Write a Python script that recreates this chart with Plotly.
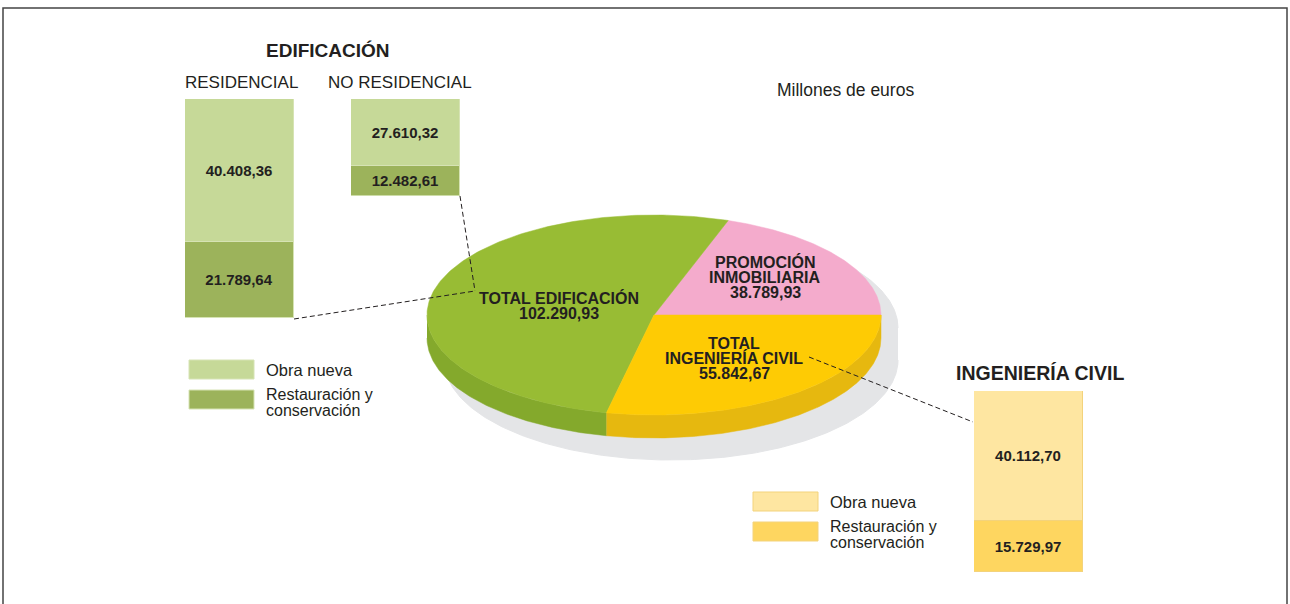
import numpy as np
import plotly.graph_objects as go

# ---------- data ----------
pie_names = ["PROMOCIÓN INMOBILIARIA", "TOTAL EDIFICACIÓN", "TOTAL INGENIERÍA CIVIL"]
pie_values = [38789.93, 102290.93, 55842.67]

bar_groups = ["RESIDENCIAL", "NO RESIDENCIAL", "INGENIERÍA CIVIL"]
obra_nueva = [40408.36, 27610.32, 40112.70]
restauracion = [21789.64, 12482.61, 15729.97]

legend_labels = ["Obra nueva", "Restauración y", "conservación"]
units_label = "Millones de euros"


def fmt(v):
    return f"{v:,.2f}".replace(",", "#").replace(".", ",").replace("#", ".")


W, H = 1290, 604
FONT = "Liberation Sans, Arial, sans-serif"
INK = "#231f20"

fig = go.Figure()

# ---------- 3D-ish pie on a pixel canvas ----------
cx, cy, rx, ry, depth = 654, 315, 227, 100, 23
top_colors = ["#f4abcc", "#98bc34", "#fecb04"]
side_colors = [None, "#84a92c", "#e6b80f"]


def arc(t0, t1, dx=0, dy=0, n=200):
    t = np.linspace(t0, t1, n)
    return cx + dx + rx * np.cos(t), cy + dy - ry * np.sin(t)


# shadow: extruded ellipse shifted right/down
ux, uy = arc(0, np.pi, dx=17, dy=13)
lx, ly = arc(np.pi, 2 * np.pi, dx=17, dy=45)
fig.add_trace(go.Scatter(x=np.r_[ux, lx], y=np.r_[uy, ly], fill="toself", mode="lines",
                         fillcolor="#e4e5e7", line=dict(color="#e4e5e7", width=1),
                         hoverinfo="skip", showlegend=False))

bounds = np.r_[0, np.cumsum(pie_values)] / sum(pie_values) * 2 * np.pi

# side walls (front half only)
for i in range(len(pie_values)):
    a0, a1 = max(bounds[i], np.pi), min(bounds[i + 1], 2 * np.pi)
    if a0 >= a1 or side_colors[i] is None:
        continue
    tx, ty = arc(a0, a1)
    bx, by = arc(a1, a0, dy=depth)
    fig.add_trace(go.Scatter(x=np.r_[tx, bx], y=np.r_[ty, by], fill="toself", mode="lines",
                             fillcolor=side_colors[i], line=dict(color=side_colors[i], width=0.5),
                             hoverinfo="skip", showlegend=False))

# top surface slices
for i in range(len(pie_values)):
    tx, ty = arc(bounds[i], bounds[i + 1])
    fig.add_trace(go.Scatter(x=np.r_[cx, tx, cx], y=np.r_[cy, ty, cy], fill="toself", mode="lines",
                             fillcolor=top_colors[i], line=dict(color=top_colors[i], width=0.5),
                             name=pie_names[i], text=fmt(pie_values[i]),
                             hovertemplate="%{fullData.name}<br>%{text}<extra></extra>",
                             showlegend=False))

# ---------- stacked bars, each on its own axis ----------
# (left px, right px, top px, px per million)
bar_boxes = [(185, 294, 99, 0.003528), (351, 460, 99, 0.002412), (974, 1083, 391, 0.003241)]
new_colors = ["#c6d998", "#c6d998", "#fee6a1"]
rest_colors = ["#9cb35b", "#9cb35b", "#fed660"]
edge_colors = ["#d6e3b4", "#d6e3b4", "#f3d37c"]

axes_layout = {}
for i, (l, r, top, k) in enumerate(bar_boxes):
    total = obra_nueva[i] + restauracion[i]
    bottom = top + total * k
    xa, ya = f"x{i + 2}", f"y{i + 2}"
    for val, col in [(obra_nueva[i], new_colors[i]), (restauracion[i], rest_colors[i])]:
        fig.add_trace(go.Bar(
            x=[0], y=[val], width=1, xaxis=xa, yaxis=ya,
            marker=dict(color=col, line=dict(color=edge_colors[i], width=1)),
            text=[fmt(val)], texttemplate="<b>%{text}</b>", textposition="inside",
            insidetextanchor="middle", textangle=0,
            textfont=dict(family=FONT, size=15, color=INK),
            name=bar_groups[i], showlegend=False,
        ))
    axes_layout[f"xaxis{i + 2}"] = dict(domain=[l / W, r / W], range=[-0.5, 0.5],
                                        anchor=ya, visible=False, fixedrange=True)
    axes_layout[f"yaxis{i + 2}"] = dict(domain=[1 - bottom / H, 1 - top / H], range=[total, 0],
                                        anchor=xa, visible=False, fixedrange=True)

# ---------- text ----------
def label(x, y, text, size=15, bold=False, anchor="center"):
    fig.add_annotation(x=x, y=y, xref="x", yref="y", text=f"<b>{text}</b>" if bold else text,
                       showarrow=False, xanchor=anchor, yanchor="middle",
                       font=dict(family=FONT, size=size, color=INK))


label(328, 50, "EDIFICACIÓN", 19, True)
label(241, 82, bar_groups[0], 17)
label(400, 82, bar_groups[1], 17)
label(1040, 373, bar_groups[2], 19.5, True)
label(845, 90, units_label, 17.5)

PS = 16
label(559, 298, "TOTAL EDIFICACIÓN", PS, True)
label(559, 313, fmt(pie_values[1]), PS, True)
label(765, 262, "PROMOCIÓN", PS, True)
label(765, 277, "INMOBILIARIA", PS, True)
label(765, 292, fmt(pie_values[0]), PS, True)
label(734, 343, "TOTAL", PS, True)
label(734, 358, "INGENIERÍA CIVIL", PS, True)
label(734, 373, fmt(pie_values[2]), PS, True)

# legends
shapes = []
for (lx0, ty0, cols, edge) in [(189, 360, (new_colors[0], rest_colors[0]), edge_colors[0]),
                               (753, 492, (new_colors[2], rest_colors[2]), edge_colors[2])]:
    shapes.append(dict(type="rect", xref="x", yref="y", x0=lx0, x1=lx0 + 65, y0=ty0, y1=ty0 + 19,
                       fillcolor=cols[0], line=dict(color=edge, width=1)))
    shapes.append(dict(type="rect", xref="x", yref="y", x0=lx0, x1=lx0 + 65, y0=ty0 + 30, y1=ty0 + 49,
                       fillcolor=cols[1], line=dict(color=edge, width=1)))
    label(lx0 + 75, ty0 + 10, legend_labels[0], 16.5, anchor="left")
    label(lx0 + 75, ty0 + 34, legend_labels[1], 16, anchor="left")
    label(lx0 + 75, ty0 + 50, legend_labels[2], 16, anchor="left")

# leader lines
for (x0, y0, x1, y1) in [(294, 319, 475, 291), (460, 196, 475, 291), (809, 357, 973, 422)]:
    shapes.append(dict(type="line", xref="x", yref="y", x0=x0, y0=y0, x1=x1, y1=y1,
                       line=dict(color=INK, width=1, dash="5px,3px")))

# frame
shapes.append(dict(type="rect", xref="paper", yref="paper", x0=3 / W, x1=1287 / W, y0=-0.1, y1=1 - 8 / H,
                   line=dict(color="#444444", width=1.5)))

fig.update_layout(
    width=W, height=H, margin=dict(l=0, r=0, t=0, b=0),
    paper_bgcolor="white", plot_bgcolor="white",
    barmode="stack", bargap=0, showlegend=False,
    xaxis=dict(range=[0, W], domain=[0, 1], visible=False, fixedrange=True),
    yaxis=dict(range=[H, 0], domain=[0, 1], visible=False, fixedrange=True),
    shapes=shapes,
    **axes_layout,
)

fig.write_html("out.html", config={"displayModeBar": False},
               post_script="document.body.style.margin='0';")
